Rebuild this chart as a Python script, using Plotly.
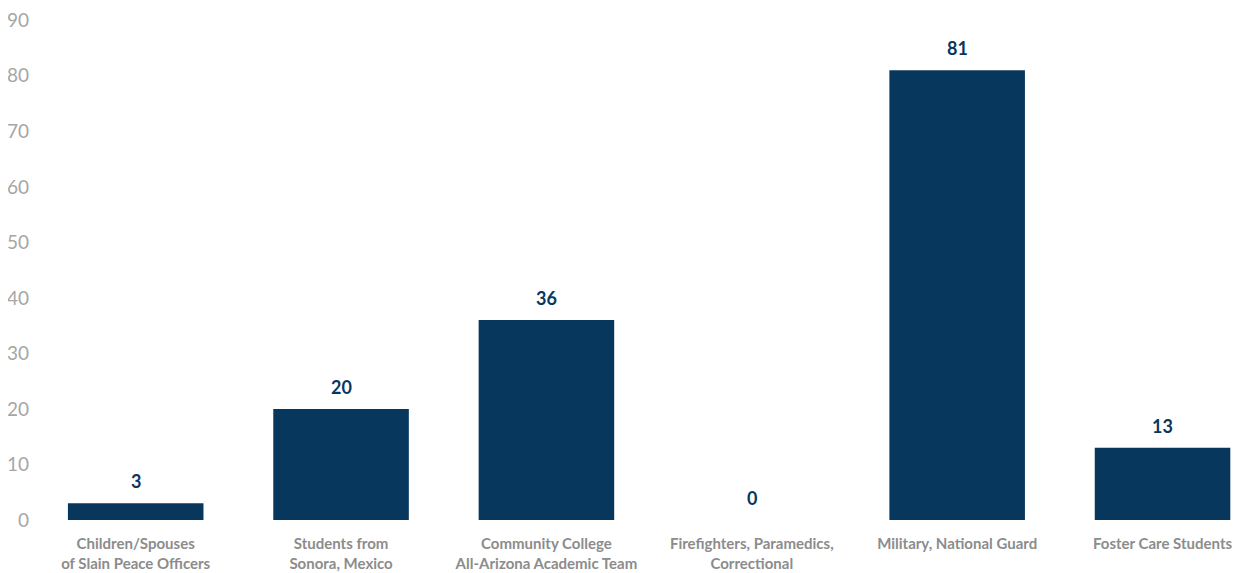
import plotly.graph_objects as go

categories = [
    "Children/Spouses<br>of Slain Peace Officers",
    "Students from<br>Sonora, Mexico",
    "Community College<br>All-Arizona Academic Team",
    "Firefighters, Paramedics,<br>Correctional",
    "Military, National Guard",
    "Foster Care Students",
]
values = [3, 20, 36, 0, 81, 13]
y_ticks = [0, 10, 20, 30, 40, 50, 60, 70, 80, 90]

bar_color = "#08375E"
font_family = "Lato, 'Open Sans', Arial, sans-serif"

fig = go.Figure()
fig.add_trace(go.Bar(
    x=list(range(len(categories))),
    y=values,
    marker=dict(color=bar_color, line=dict(width=0)),
    width=0.66,
    hoverinfo="skip",
))

for i, v in enumerate(values):
    fig.add_annotation(
        x=i, y=v, text=f"<b>{v}</b>", showarrow=False,
        yanchor="bottom", yshift=9,
        font=dict(family=font_family, size=18, color=bar_color),
    )

fig.update_layout(
    width=1249, height=573,
    margin=dict(l=25, r=0, t=12, b=61),
    paper_bgcolor="white", plot_bgcolor="white",
    showlegend=False,
)
fig.update_xaxes(
    tickmode="array",
    tickvals=list(range(len(categories))),
    ticktext=[f"<b>{c}</b>" for c in categories],
    range=[-0.5, 5.46],
    showgrid=False, zeroline=False, showline=False, ticks="",
    tickfont=dict(family=font_family, size=15, color="#8C8C8C"),
    ticklabelstandoff=13,
    automargin=False,
)
fig.update_yaxes(
    range=[0, 90.05],
    tickmode="array", tickvals=y_ticks,
    showgrid=False, zeroline=False, showline=False, ticks="",
    tickfont=dict(family=font_family, size=19, color="#A6A6A6"),
    ticklabelstandoff=3,
    ticklabeloverflow="allow",
    automargin=False,
)

fig.write_html("out.html")
